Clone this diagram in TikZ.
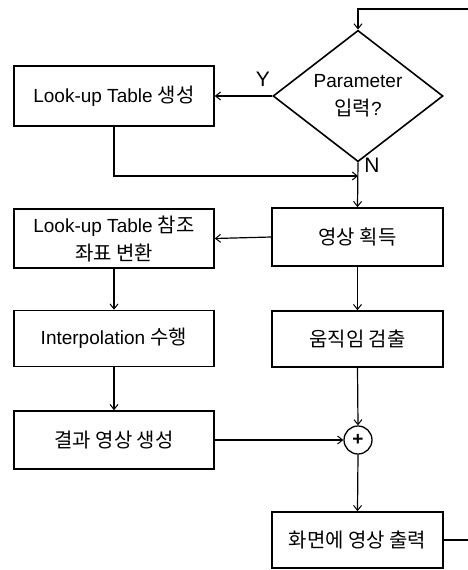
\documentclass[tikz,border=0pt]{standalone}
\usepackage{fontspec}
\setmainfont{Liberation Sans}
\newfontfamily\kr[Scale=1.05]{Noto Sans CJK KR}
\usetikzlibrary{shapes.geometric,arrows.meta}

\begin{document}
\begin{tikzpicture}[x=1pt,y=-1pt,
  font=\fontsize{19}{28}\selectfont,
  box/.style={draw,line width=1.6pt,rectangle,inner sep=0pt,align=center},
  leftbox/.style={box,minimum width=200pt},
  rightbox/.style={box,minimum width=171pt},
  decision/.style={draw,line width=1.6pt,diamond,inner sep=0pt,
    minimum width=170pt,minimum height=112pt,align=center},
  sumnode/.style={draw,line width=1.3pt,circle,minimum size=28pt,inner sep=0pt},
  flow/.style={line width=1.2pt,-{Straight Barb[length=5pt,width=8pt,line width=1pt]}},
  lbl/.style={font=\fontsize{21}{24}\selectfont}]

\useasboundingbox (0,0) rectangle (467,570);

% decision and left branch
\node[decision] (dia) at (358,96) {Parameter\\{\kr 입력}?};
\node[leftbox,minimum height=60pt] (lut) at (114,96) {Look-up Table {\kr 생성}};

% right column
\node[rightbox,minimum height=58pt] (acq) at (357.5,237) {{\kr 영상 획득}};
\node[rightbox,minimum height=56pt] (motion) at (357.5,339) {{\kr 움직임 검출}};
\node[sumnode] (plus) at (358,440) {\textbf{+}};
\node[rightbox,minimum height=56pt] (out) at (357.5,540) {{\kr 화면에 영상 출력}};

% left column
\node[leftbox,minimum height=59pt] (lutref) at (114,238.5)
  {Look-up Table {\kr 참조}\\{\kr 좌표 변환}};
\node[leftbox,minimum height=56pt] (interp) at (114,338.5) {Interpolation {\kr 수행}};
\node[leftbox,minimum height=58pt] (result) at (114,440) {{\kr 결과 영상 생성}};

% loop-back path coordinates
\coordinate (loopA) at (472,540);
\coordinate (loopB) at (472,9);
\coordinate (loopC) at (358,9);
\coordinate (merge) at (358,176);

% connectors
\draw[flow] (out.east) -- (loopA) -- (loopB) -- (loopC) -- (dia.north);
\draw[flow] (dia.west) -- (lut.east);
\draw[flow] (lut.south) |- (merge);
\draw[flow] (dia.south) -- (acq.north);
\draw[flow] (acq.west) -- (lutref.east);
\draw[flow] (lutref.south) -- (interp.north);
\draw[flow] (interp.south) -- (result.north);
\draw[flow] (acq.south) -- (motion.north);
\draw[flow] (motion.south) -- (plus.north);
\draw[flow] (result.east) -- (plus.west);
\draw[flow] (plus.south) -- (out.north);

% branch labels
\node[lbl] (ylab) at (263,79) {Y};
\node[lbl] (nlab) at (372,165) {N};

\end{tikzpicture}
\end{document}
